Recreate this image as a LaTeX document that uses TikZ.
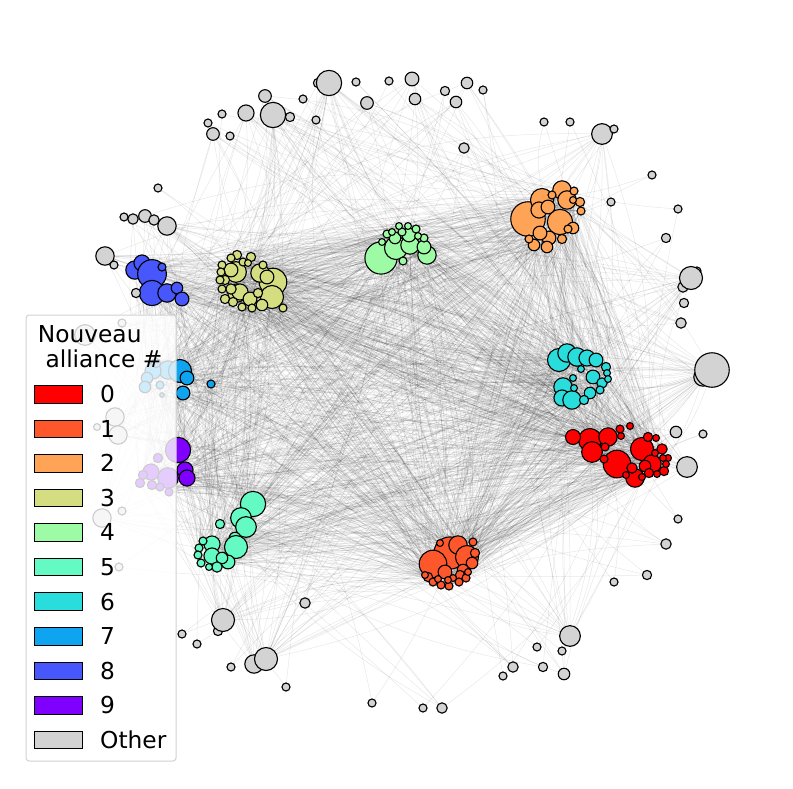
\documentclass[tikz,border=0pt]{standalone}
\usepackage{fontspec}
\setmainfont{DejaVu Sans}
\pgfdeclarelayer{edges}
\pgfsetlayers{edges,main}
\definecolor{c0}{RGB}{255,0,0}
\definecolor{c1}{RGB}{255,87,44}
\definecolor{c2}{RGB}{255,164,87}
\definecolor{c3}{RGB}{212,221,128}
\definecolor{c4}{RGB}{156,251,164}
\definecolor{c5}{RGB}{99,251,195}
\definecolor{c6}{RGB}{42,221,221}
\definecolor{c7}{RGB}{14,164,240}
\definecolor{c8}{RGB}{71,87,251}
\definecolor{c9}{RGB}{128,0,255}
\definecolor{co}{RGB}{211,211,211}
\definecolor{legframe}{RGB}{210,210,210}
\tikzset{
  nd/.style={circle,draw=black,line width=1.1,inner sep=0pt,fill=#1},
  edge/.style={draw=black,draw opacity=0.09,line width=0.5},
  legtext/.style={font=\fontsize{23.3}{27}\selectfont,inner sep=0pt},
  legpatch/.style={draw=black,line width=1,fill=#1,minimum width=47.5,minimum height=17.5,inner sep=0pt}
}
\def\collist{617/464/12/c0, 590/440/10/c0, 642/449/10/c0, 592/452/9/c0, 608/437/8/c0, 652/464/8/c0, 635/478/8/c0, 573/437/6.5/c0, 645/466/5/c0, 662/449/4.5/c0, 632/468/4.5/c0, 648/437/4/c0, 664/471/4/c0, 649/473/4/c0, 620/429/3.5/c0, 605/447/3.5/c0, 604/459/3.5/c0, 630/426/3/c0, 621/436/3/c0, 656/438/3/c0, 655/453/3/c0, 668/458/3/c0, 663/458/3/c0, 666/464/3/c0, 657/474/3/c0, 642/477/3/c0, 626/475/3/c0,
450/553/14/c1, 433/564/12/c1, 458/545/8/c1, 467/557/10/c1, 445/572/6/c1, 472/563/5/c1, 463/570/5/c1, 475/553/4/c1, 460/575/4/c1, 428/577/4/c1, 473/542/3.5/c1, 466/578/3.5/c1, 459/582/3.5/c1, 449/586/3.5/c1, 441/585/3.5/c1, 433/582/3.5/c1, 468/572/3/c1, 453/578/3/c1, 448/580/3/c1, 425/575/3/c1, 440/543/3/c1, 438/579/3/c1,
528/219/15/c2, 560/222/11/c2, 542/200/10/c2, 562/190/8/c2, 567/200/8/c2, 539/210/7/c2, 548/207/6/c2, 549/238/6/c2, 540/233/6/c2, 573/228/5/c2, 534/245/5/c2, 547/247/5/c2, 580/202/4/c2, 562/239/4/c2, 552/195/3.5/c2, 574/191/3.5/c2, 581/211/3.5/c2, 568/229/3.5/c2, 529/239/3.5/c2, 573/200/3/c2,
273/282/12/c3, 272/297/10/c3, 236/272/9/c3, 260/273/8/c3, 237/293/8/c3, 240/292/7/c3, 267/277/6/c3, 250/299/6/c3, 231/270/6/c3, 262/305/5/c3, 231/289/4.5/c3, 237/255/4/c3, 251/257/4/c3, 225/280/4/c3, 225/299/4/c3, 233/302/4/c3, 258/293/4/c3, 231/258/3.5/c3, 243/262/3.5/c3, 222/265/3.5/c3, 221/272/3.5/c3, 220/280/3.5/c3, 263/265/3.5/c3, 222/289/3.5/c3, 242/307/3.5/c3, 252/308/3.5/c3, 283/308/3.5/c3, 248/263/3/c3,
381/258/14/c4, 396/248/10/c4, 410/245/8/c4, 427/255/8/c4, 409/235/6/c4, 424/247/6/c4, 395/238/5/c4, 403/261/3.5/c4, 416/229/3.5/c4, 424/238/3.5/c4, 387/234/3.5/c4, 402/232/3.5/c4, 399/226/3/c4, 408/226/3/c4, 418/236/3/c4, 392/232/3/c4, 382/242/3/c4,
253/504/11/c5, 241/518/9/c5, 246/527/9/c5, 235/538/5/c5, 236/547/10/c5, 212/544/7/c5, 212/556/7/c5, 228/562/6/c5, 222/558/5/c5, 217/567/4.5/c5, 220/524/4/c5, 203/541/3.5/c5, 199/548/3.5/c5, 198/555/3.5/c5, 201/563/3.5/c5, 209/567/3/c5,
559/360/10/c6, 567/353/8/c6, 577/357/8/c6, 587/358/7/c6, 596/360/6/c6, 563/387/8/c6, 562/398/7/c6, 572/400/8/c6, 593/377/6/c6, 590/393/5/c6, 602/383/4.5/c6, 606/367/4/c6, 584/400/4/c6, 600/390/3.5/c6, 581/369/3/c6, 607/373/3/c6, 608/379/3/c6, 573/378/3/c6, 574/388/3/c6,
168/370/8/c7, 153/371/7/c7, 180/371/10/c7, 187/378/6/c7, 183/393/6/c7, 147/378/5/c7, 145/387/5/c7, 160/385/3.5/c7, 156/363/4/c7, 162/395/2/c7, 211/384/3.5/c7,
135/270/8/c8, 142/263/7/c8, 152/274/12.5/c8, 162/267/3.5/c8, 152/293/11/c8, 167/293/8/c8, 177/288/5/c8, 182/299/6/c8,
178/450/11/c9, 168/478/9/c9, 151/472/7/c9, 185/470/7/c9, 187/478/7/c9, 158/458/4/c9, 143/475/4/c9, 152/485/4/c9, 160/487/3.5/c9, 169/492/3.5/c9, 140/483/4/c9}
\def\graylist{318/83/4, 329/83/11, 265/96/5.5, 303/99/3.5, 246/113/7, 273/115/11, 290/117/4, 316/120/3.5, 222/114/3.5, 208/123/3.5, 213/134/5.5, 230/136/3.5, 158/188/3.5, 124/217/3.5, 133/219/4.5, 145/216/5.5, 154/220/4.5, 167/226/8, 105/256/8, 114/265/3.5, 136/293/4, 356/82/3.5, 389/81/3.5, 412/79/6, 367/103/5.5, 415/99/5, 445/91/4, 467/83/5, 483/90/3.5, 456/102/5, 464/148/4.5, 544/122/3.5, 570/122/3.5, 602/134/9, 614/129/3.5, 611/202/3.5, 652/175/3.5, 678/209/3.5, 666/238/4, 697/271/3.5, 683/287/4.5, 691/278/10, 684/303/4, 681/323/4.5, 703/377/8, 712/370/15, 676/432/5, 703/434/3.5, 687/467/9, 678/519/3.5, 666/544/4.5, 647/575/4, 614/582/3.5, 570/636/9, 537/647/3.5, 562/651/3.5, 513/667/4.5, 503/676/3.5, 543/667/4, 564/674/5, 372/703/3.5, 423/708/3.5, 442/708/4.5, 305/603/4.5, 218/631/4, 223/620/10, 182/634/3.5, 197/644/3.5, 254/664/8, 266/659/10, 231/667/3.5, 286/687/3.5, 115/417/8, 118/435/8, 97/427/3, 122/511/3.5, 102/518/8, 119/567/3.5, 85/335/9, 122/323/3.5}
\begin{document}
\begin{tikzpicture}[x=1pt,y=-1pt]
\path[use as bounding box] (0,0) rectangle (793,788);
% coloured nodes
\foreach \x/\y/\r/\cl [count=\i] in \collist {
  \node[nd=\cl,minimum size=2.3*\r] (n\i) at (\x,\y) {};
  \xdef\K{\i}
}
\pgfmathtruncatemacro\Kp{\K+1}
% other nodes
\foreach \x/\y/\r [count=\i from \Kp] in \graylist {
  \node[nd=co,minimum size=2.3*\r] (n\i) at (\x,\y) {};
}
% edges
\begin{pgfonlayer}{edges}
\pgfmathsetseed{12}
\foreach \x/\y/\r/\cl [count=\i] in \collist {
  \pgfmathtruncatemacro\m{round(1.5*\r)}
  \foreach \k in {1,...,\m} {
    \pgfmathrandominteger{\j}{1}{\K}
    \pgfmathsetmacro\bb{rand*18}
    \ifnum\j=\i\else\draw[edge] (n\i) to[bend left=\bb] (n\j);\fi
  }
}
\foreach \x/\y/\r [count=\i from \Kp] in \graylist {
  \pgfmathtruncatemacro\m{max(1,round(3*(\r-3)))}
  \foreach \k in {1,...,\m} {
    \pgfmathrandominteger{\j}{1}{\K}
    \pgfmathsetmacro\bb{rand*18}
    \draw[edge] (n\i) to[bend left=\bb] (n\j);
  }
}
\end{pgfonlayer}
% legend
\draw[draw=legframe,fill=white,fill opacity=0.8,line width=1,rounded corners=3] (26,315) rectangle (176,761);
\node[legtext,anchor=base west] (t1) at (37.7,342) {Nouveau};
\node[legtext,anchor=base west] (t2) at (45.3,367.5) {alliance \#};
\foreach \lab/\cl [count=\i from 0] in {0/c0,1/c1,2/c2,3/c3,4/c4,5/c5,6/c6,7/c7,8/c8,9/c9,Other/co} {
  \pgfmathsetmacro\yc{394.4+34.55*\i}
  \node[legpatch=\cl] (p\i) at (58.5,\yc) {};
  \node[legtext,anchor=base west] (l\i) at (100,{\yc+8.3}) {\lab};
}
\end{tikzpicture}
\end{document}
